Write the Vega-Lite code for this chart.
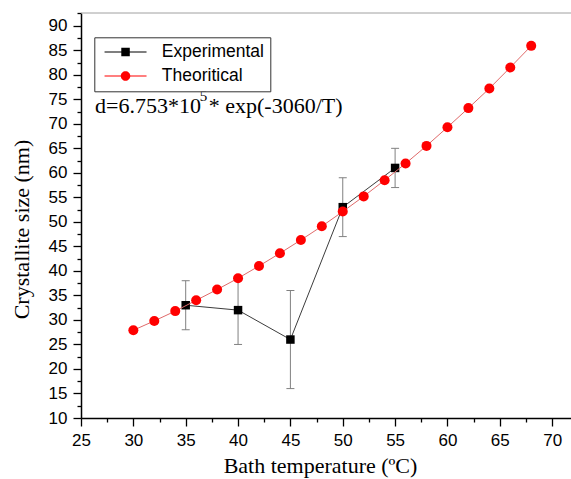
{
  "$schema": "https://vega.github.io/schema/vega-lite/v6.json",
  "width": 490,
  "height": 405,
  "autosize": "none",
  "padding": {"left": 81, "top": 13, "right": 0, "bottom": 61},
  "background": "white",
  "config": {
    "view": {"stroke": null},
    "axis": {
      "domainColor": "black", "domainWidth": 1.5, "tickColor": "black", "tickWidth": 1.3,
      "labelFont": "Liberation Sans", "labelFontSize": 17, "labelColor": "black",
      "titleFont": "Liberation Serif", "titleFontSize": 22, "titleFontWeight": "normal", "titleColor": "black",
      "grid": false
    }
  },
  "datasets": {
    "exp": [
      {"temp": 35, "size": 33.0, "lo": 28.0, "hi": 38.0, "series": "Experimental"},
      {"temp": 40, "size": 32.0, "lo": 25.0, "hi": 38.6, "series": "Experimental"},
      {"temp": 45, "size": 26.0, "lo": 16.0, "hi": 36.0, "series": "Experimental"},
      {"temp": 50, "size": 53.0, "lo": 47.0, "hi": 59.0, "series": "Experimental"},
      {"temp": 55, "size": 61.0, "lo": 57.0, "hi": 65.0, "series": "Experimental"}
    ],
    "theo": [
      {"temp": 30, "size": 27.9, "series": "Theoritical"},
      {"temp": 32, "size": 29.8, "series": "Theoritical"},
      {"temp": 34, "size": 31.8, "series": "Theoritical"},
      {"temp": 36, "size": 34.0, "series": "Theoritical"},
      {"temp": 38, "size": 36.2, "series": "Theoritical"},
      {"temp": 40, "size": 38.5, "series": "Theoritical"},
      {"temp": 42, "size": 41.0, "series": "Theoritical"},
      {"temp": 44, "size": 43.6, "series": "Theoritical"},
      {"temp": 46, "size": 46.3, "series": "Theoritical"},
      {"temp": 48, "size": 49.1, "series": "Theoritical"},
      {"temp": 50, "size": 52.1, "series": "Theoritical"},
      {"temp": 52, "size": 55.2, "series": "Theoritical"},
      {"temp": 54, "size": 58.5, "series": "Theoritical"},
      {"temp": 56, "size": 61.9, "series": "Theoritical"},
      {"temp": 58, "size": 65.5, "series": "Theoritical"},
      {"temp": 60, "size": 69.3, "series": "Theoritical"},
      {"temp": 62, "size": 73.2, "series": "Theoritical"},
      {"temp": 64, "size": 77.2, "series": "Theoritical"},
      {"temp": 66, "size": 81.5, "series": "Theoritical"},
      {"temp": 68, "size": 85.9, "series": "Theoritical"}
    ],
    "note": [{"label": "annotation"}]
  },
  "resolve": {"axis": {"x": "independent", "y": "independent"}},
  "layer": [
    {
      "data": {"name": "note"},
      "mark": {"type": "rule", "color": "#a0a0a0", "strokeWidth": 1},
      "encoding": {"y": {"datum": 92.6, "type": "quantitative", "axis": null}}
    },
    {
      "encoding": {
        "x": {
          "field": "temp", "type": "quantitative",
          "scale": {"domain": [25, 71.8], "nice": false, "zero": false},
          "axis": {
            "orient": "bottom",
            "title": "Bath temperature (ºC)",
            "values": [25, 27.5, 30, 32.5, 35, 37.5, 40, 42.5, 45, 47.5, 50, 52.5, 55, 57.5, 60, 62.5, 65, 67.5, 70],
            "labelExpr": "datum.value % 5 === 0 ? datum.label : ''",
            "tickSize": {"condition": {"test": "datum.value % 5 === 0", "value": 8}, "value": 4},
            "labelPadding": 6, "labelFlush": false, "labelOverlap": false,
            "titleX": 239, "titleY": 54, "titleBaseline": "alphabetic", "titleAlign": "center"
          }
        },
        "y": {
          "field": "size", "type": "quantitative",
          "scale": {"domain": [10, 92.6], "nice": false, "zero": false},
          "axis": {
            "orient": "left",
            "title": "Crystallite size (nm)",
            "values": [10, 12.5, 15, 17.5, 20, 22.5, 25, 27.5, 30, 32.5, 35, 37.5, 40, 42.5, 45, 47.5, 50, 52.5, 55, 57.5, 60, 62.5, 65, 67.5, 70, 72.5, 75, 77.5, 80, 82.5, 85, 87.5, 90, 92.5],
            "labelExpr": "datum.value % 5 === 0 ? datum.label : ''",
            "tickSize": {"condition": {"test": "datum.value % 5 === 0", "value": 8}, "value": 4},
            "labelPadding": 6, "labelFlush": false, "labelOverlap": false,
            "titleX": -60, "titleY": 216, "titleAngle": -90, "titleBaseline": "middle", "titleAlign": "center"
          }
        }
      },
      "layer": [
        {
          "data": {"name": "exp"},
          "mark": {"type": "rule", "color": "#808080", "strokeWidth": 1},
          "encoding": {"y": {"field": "lo", "type": "quantitative"}, "y2": {"field": "hi"}}
        },
        {
          "data": {"name": "exp"},
          "mark": {"type": "tick", "orient": "horizontal", "color": "#808080", "size": 8, "thickness": 1, "opacity": 1},
          "encoding": {"y": {"field": "lo", "type": "quantitative"}}
        },
        {
          "data": {"name": "exp"},
          "mark": {"type": "tick", "orient": "horizontal", "color": "#808080", "size": 8, "thickness": 1, "opacity": 1},
          "encoding": {"y": {"field": "hi", "type": "quantitative"}}
        },
        {
          "data": {"name": "exp"},
          "mark": {"type": "line", "color": "#3c3c3c", "strokeWidth": 1}
        },
        {
          "data": {"name": "exp"},
          "mark": {"type": "point", "shape": "square", "filled": true, "size": 72, "opacity": 1},
          "encoding": {
            "color": {
              "field": "series", "type": "nominal",
              "scale": {"domain": ["Experimental", "Theoritical"], "range": ["black", "#ff0000"]},
              "legend": {
                "orient": "none", "legendX": 13.3, "legendY": 24.3, "title": null,
                "labelFont": "Liberation Sans", "labelFontSize": 17.5, "labelColor": "black",
                "strokeColor": "#333333", "fillColor": "white", "padding": 6, "rowPadding": 5,
                "labelOffset": 44, "symbolSize": 72.25, "symbolStrokeWidth": 0, "symbolOpacity": 1,
                "encode": {
                  "symbols": {
                    "update": {
                      "shape": {"signal": "datum.value === 'Experimental' ? 'M-1.06,-0.12H8.82V0.12H-1.06Z M2.88,-1H4.88V1H2.88Z' : 'M-1.06,-0.12H8.82V0.12H-1.06Z M2.76,0A1.12,1.12 0 1,1 5.0,0A1.12,1.12 0 1,1 2.76,0Z'"}
                    }
                  }
                }
              }
            }
          }
        },
        {
          "data": {"name": "theo"},
          "mark": {"type": "line", "color": "#e06a6a", "strokeWidth": 1}
        },
        {
          "data": {"name": "theo"},
          "mark": {"type": "point", "shape": "circle", "filled": true, "size": 100, "opacity": 1},
          "encoding": {
            "color": {"field": "series", "type": "nominal"}
          }
        }
      ]
    },
    {
      "data": {"name": "note"},
      "mark": {"type": "text", "font": "Liberation Serif", "fontSize": 22, "align": "left", "baseline": "alphabetic", "color": "black"},
      "encoding": {"x": {"datum": 26.34, "type": "quantitative", "axis": null}, "y": {"datum": 72.2, "type": "quantitative", "axis": null}, "text": {"value": "d=6.753*10"}}
    },
    {
      "data": {"name": "note"},
      "mark": {"type": "text", "font": "Liberation Serif", "fontSize": 15, "align": "left", "baseline": "alphabetic", "color": "black"},
      "encoding": {"x": {"datum": 36.35, "type": "quantitative", "axis": null}, "y": {"datum": 74.6, "type": "quantitative", "axis": null}, "text": {"value": "5"}}
    },
    {
      "data": {"name": "note"},
      "mark": {"type": "text", "font": "Liberation Serif", "fontSize": 22, "align": "left", "baseline": "alphabetic", "color": "black"},
      "encoding": {"x": {"datum": 37.2, "type": "quantitative", "axis": null}, "y": {"datum": 72.2, "type": "quantitative", "axis": null}, "text": {"value": "* exp(-3060/T)"}}
    }
  ]
}
